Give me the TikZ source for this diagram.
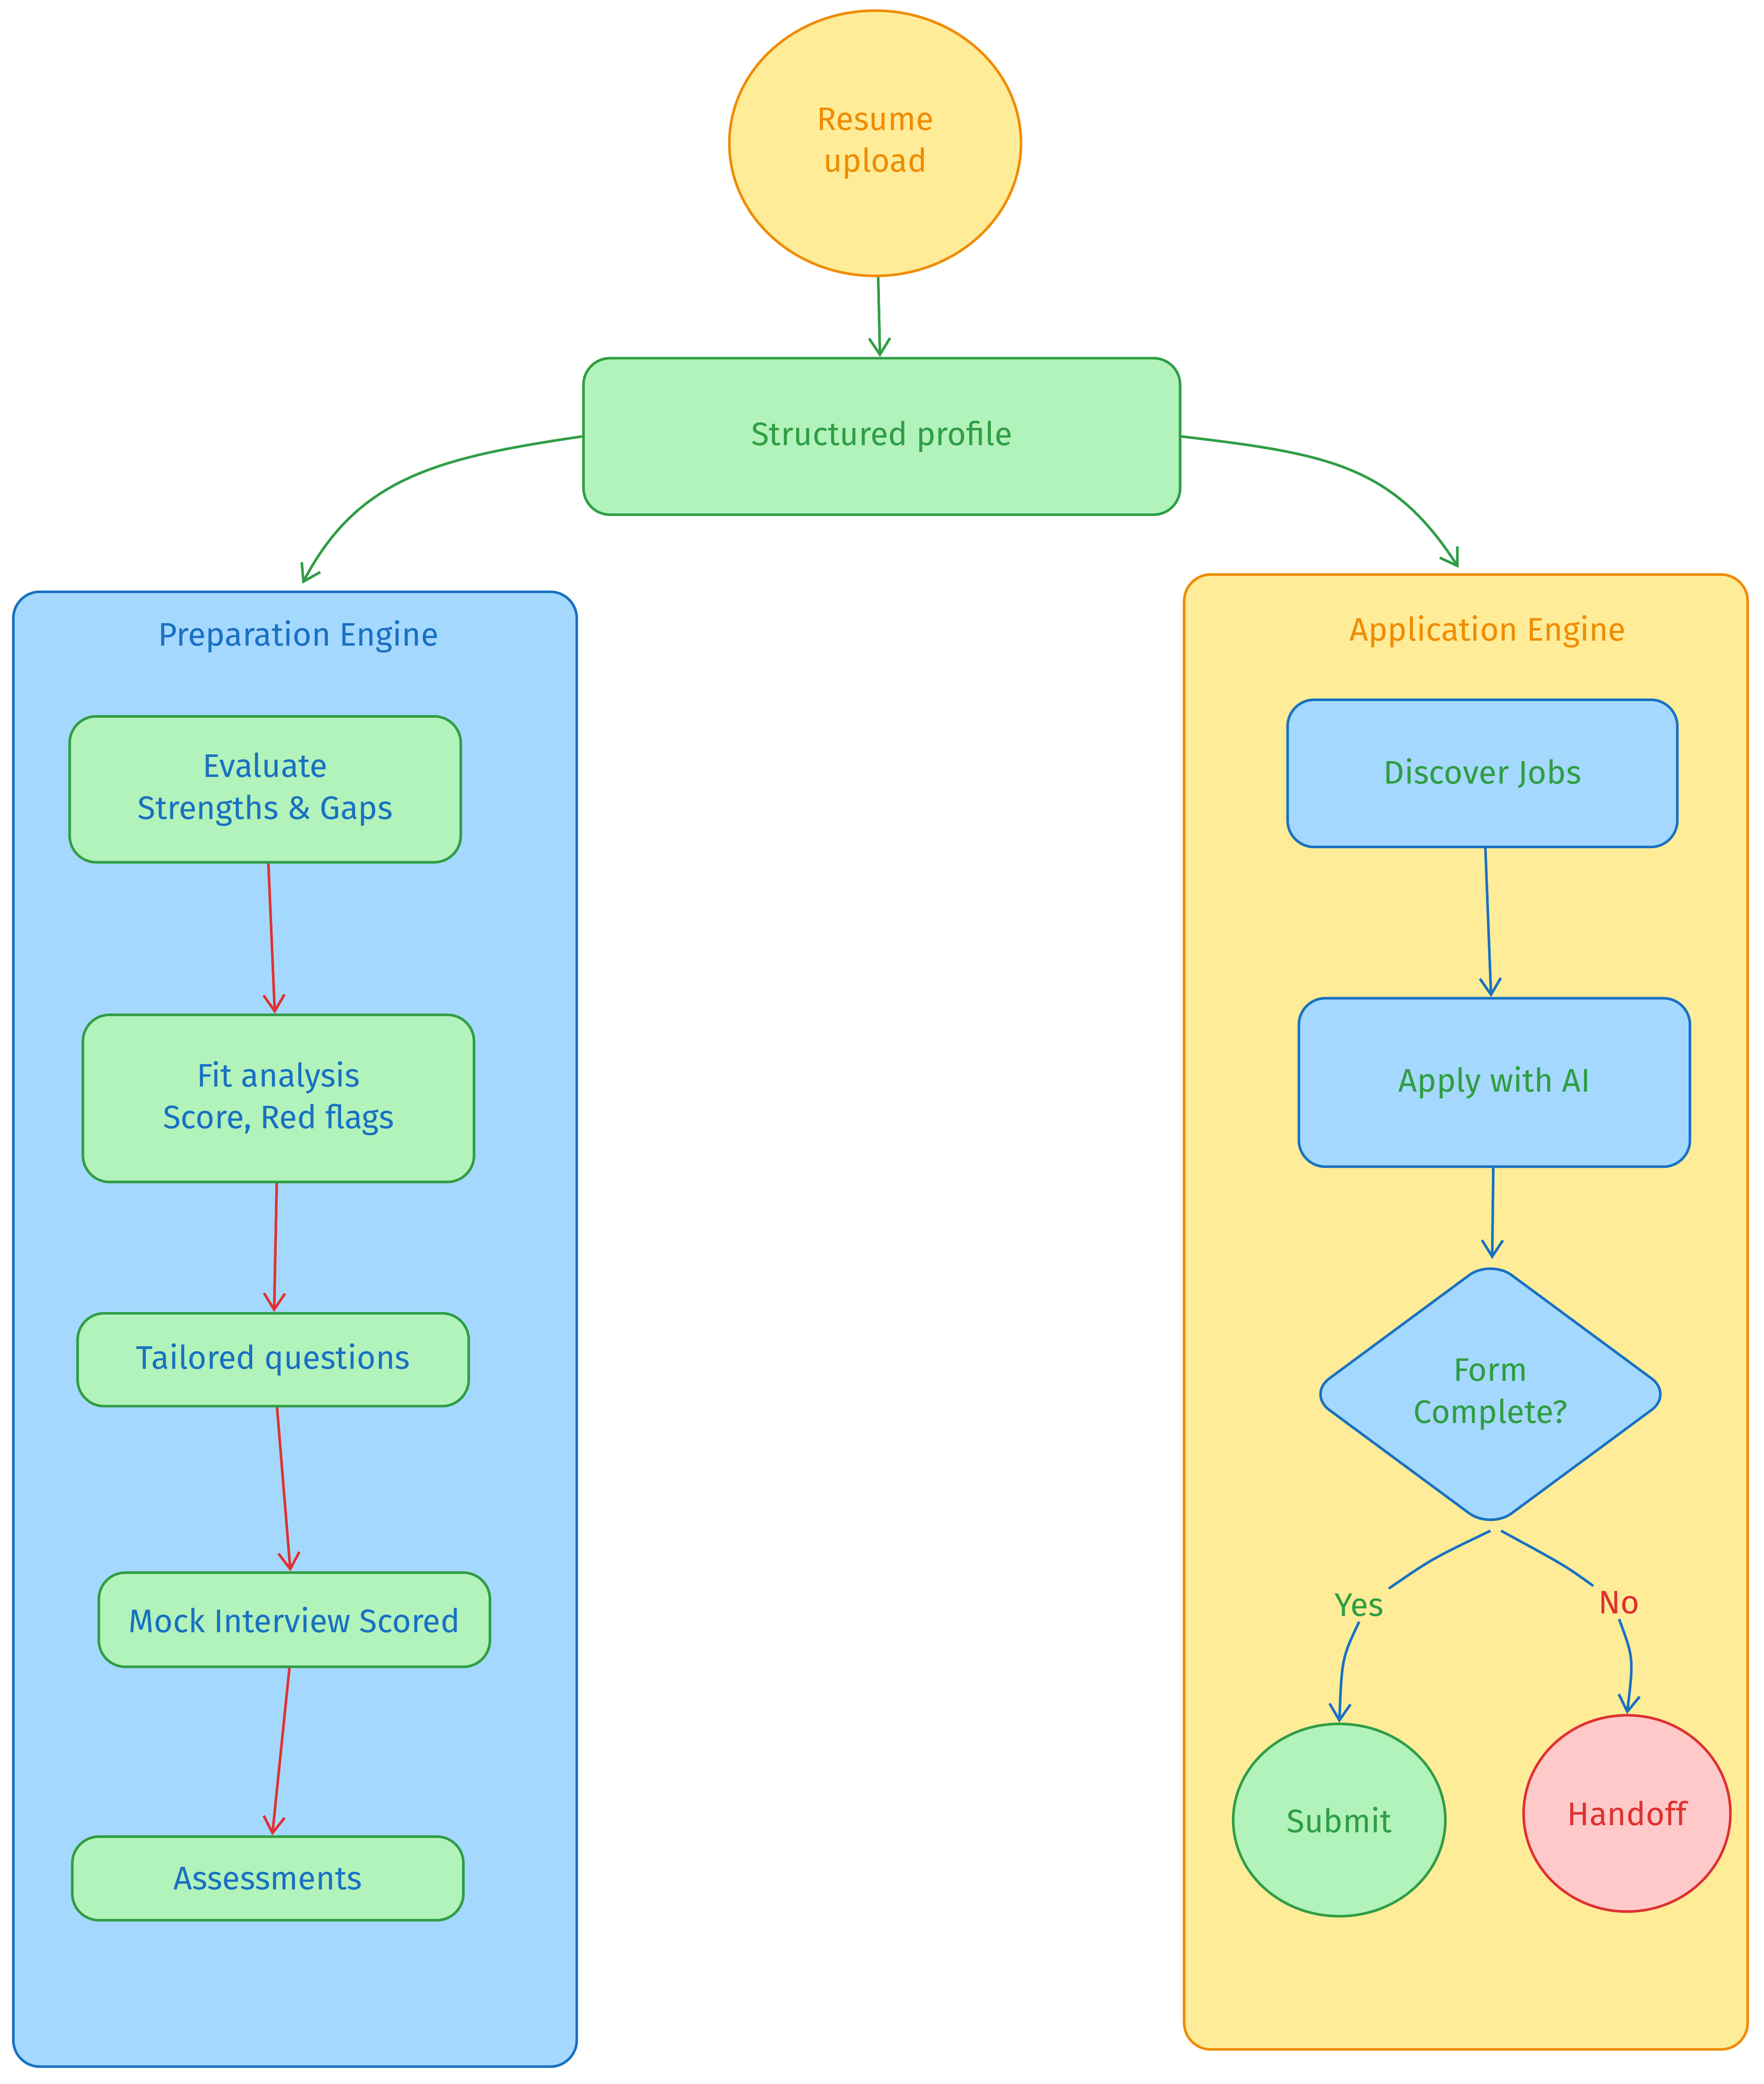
\documentclass[tikz,border=0pt]{standalone}
\usepackage{fontspec}
\setmainfont{Fira Sans}
\usetikzlibrary{shapes.geometric,arrows.meta}
\definecolor{gfill}{HTML}{B2F2BB}\definecolor{gline}{HTML}{2F9E44}
\definecolor{bfill}{HTML}{A5D8FF}\definecolor{bline}{HTML}{1971C2}
\definecolor{yfill}{HTML}{FFEC99}\definecolor{oline}{HTML}{F08C00}
\definecolor{rfill}{HTML}{FFC9C9}\definecolor{rline}{HTML}{E03131}
\begin{document}
\begin{tikzpicture}[x=0.02cm,y=0.02cm,
  every node/.style={font=\fontsize{14}{18}\selectfont, align=center, inner sep=0pt},
  box/.style={draw, line width=1.1pt, rounded corners=0.4cm},
  gbox/.style={box, fill=gfill, draw=gline},
  bbox/.style={box, fill=bfill, draw=bline, text=gline},
  arr/.style={-{Straight Barb[length=7pt,width=9pt]}, line width=1.1pt}]
\useasboundingbox (0,0) rectangle (1330,-1571);
% containers
\node[box, fill=bfill, draw=bline, minimum width=8.5cm, minimum height=22.24cm] (prep) at (222.5,-1002) {};
\node[box, fill=yfill, draw=oline, minimum width=8.5cm, minimum height=22.24cm] (app) at (1105.5,-989) {};
\node[text=bline] (prepl) at (225,-480) {Preparation Engine};
\node[text=oline] (appl) at (1122,-476) {Application Engine};
% top
\node[ellipse, draw=oline, fill=yfill, line width=1.1pt, text=oline, minimum width=4.4cm, minimum height=4cm] (resume) at (660,-108) {Resume\\upload};
\node[gbox, text=gline, minimum width=9cm, minimum height=2.36cm] (prof) at (665,-329) {Structured profile};
% prep
\node[gbox, text=bline, minimum width=5.9cm, minimum height=2.2cm] (eval) at (200,-595) {Evaluate\\Strengths \& Gaps};
\node[gbox, text=bline, minimum width=5.9cm, minimum height=2.52cm] (fit) at (210,-828) {Fit analysis\\Score, Red flags};
\node[gbox, text=bline, minimum width=5.9cm, minimum height=1.4cm] (tail) at (206,-1025) {Tailored questions};
\node[gbox, text=bline, minimum width=5.9cm, minimum height=1.42cm] (mock) at (222,-1221) {Mock Interview Scored};
\node[gbox, text=bline, minimum width=5.9cm, minimum height=1.26cm] (assess) at (202,-1416) {Assessments};
% app
\node[bbox, minimum width=5.88cm, minimum height=2.22cm] (disc) at (1118,-583) {Discover Jobs};
\node[bbox, minimum width=5.9cm, minimum height=2.54cm] (apply) at (1127,-816) {Apply with AI};
\node[diamond, draw=bline, fill=bfill, line width=1.1pt, text=gline, rounded corners=0.4cm, minimum width=5.52cm, minimum height=4.08cm] (form) at (1124,-1051) {Form\\Complete?};
\node[ellipse, draw=gline, fill=gfill, line width=1.1pt, text=gline, minimum width=3.2cm, minimum height=2.9cm] (submit) at (1010,-1372) {Submit};
\node[ellipse, draw=rline, fill=rfill, line width=1.1pt, text=rline, minimum width=3.12cm, minimum height=2.96cm] (hand) at (1227,-1367) {Handoff};
% arrows
\draw[arr, gline] (resume) -- (prof);
\draw[arr, gline] (prof.west) .. controls (330,-345) and (270,-360) .. (228,-440);
\draw[arr, gline] (prof.east) .. controls (1000,-342) and (1050,-350) .. (1100,-428);
\draw[arr, rline] (eval) -- (fit);
\draw[arr, rline] (fit) -- (tail);
\draw[arr, rline] (tail) -- (mock);
\draw[arr, rline] (mock) -- (assess);
\draw[arr, bline] (disc) -- (apply);
\draw[arr, bline] (apply) -- (form);
\node[text=gline, fill=yfill, inner sep=2pt] (yes) at (1025,-1210) {Yes};
\node[text=rline, fill=yfill, inner sep=2pt] (no) at (1221,-1208) {No};
\draw[line width=1.1pt, bline] (form.south) .. controls (1080,-1175) .. (yes.north east);
\draw[arr, bline] (yes.south) .. controls (1012,-1250) .. (submit.north);
\draw[line width=1.1pt, bline] (form.south) ++(8,0) .. controls (1180,-1180) .. (no.north west);
\draw[arr, bline] (no.south) .. controls (1232,-1250) .. (hand.north);
\end{tikzpicture}
\end{document}
